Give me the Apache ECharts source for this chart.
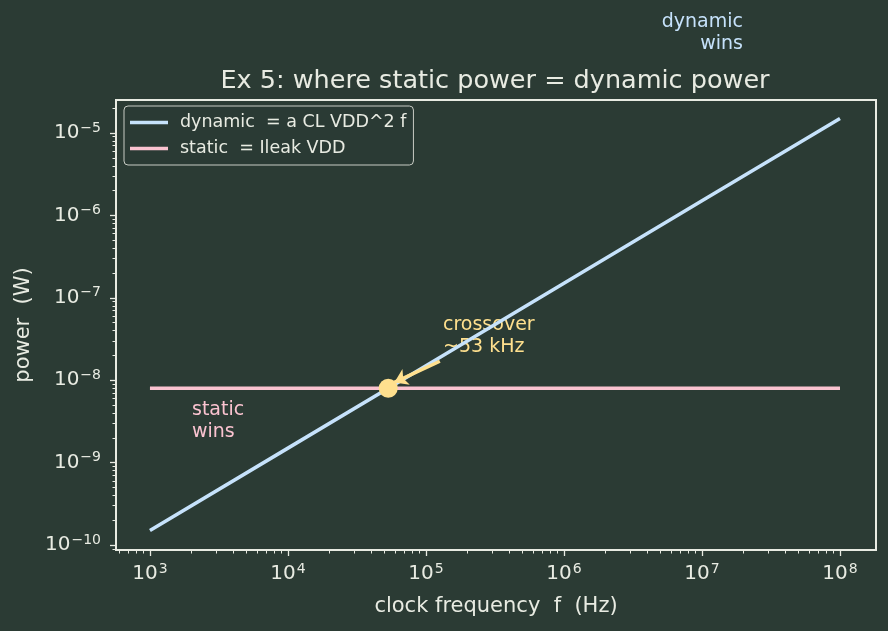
<!DOCTYPE html>
<html>
<head>
<meta charset="utf-8">
<script src="https://cdn.jsdelivr.net/npm/echarts@6/dist/echarts.min.js"></script>
<style>
  html, body { margin: 0; padding: 0; background: #2b3b34; }
  #main { width: 888px; height: 631px; }
</style>
</head>
<body>
<div id="main"></div>
<script>
// values
var freqHz = [1e3, 1e4, 1e5, 1e6, 1e7, 1e8];
var dynamicW = [1.5e-10, 1.5e-9, 1.5e-8, 1.5e-7, 1.5e-6, 1.5e-5];
var staticW = [8e-9, 8e-9, 8e-9, 8e-9, 8e-9, 8e-9];
var crossover = [5.33e4, 8e-9];
var xTickExps = [3, 4, 5, 6, 7, 8];
var yTickExps = [-10, -9, -8, -7, -6, -5];

var bg = '#2b3b34';
var fg = '#e8ebe2';
var cDyn = '#c6e2fb';
var cStat = '#fac3d0';
var cCross = '#ffe08e';
var font = 'DejaVu Sans';

var lg = Math.log10;
var xMin = 2.754, xMax = 8.261;
var yMin = -10.06, yMax = -4.6;

function minorTicks(lo, hi) {
    var out = [];
    for (var n = Math.floor(lo); n <= Math.ceil(hi); n++) {
        for (var k = 2; k <= 9; k++) {
            var v = n + lg(k);
            if (v >= lo && v <= hi) out.push(v);
        }
    }
    return out;
}

function powLabel(v) {
    var e = Math.round(v);
    var s = e < 0 ? '\u2212' + (-e) : '' + e;
    return '{b|10}{s|' + s + '}';
}

var richLab = {
    b: { fontSize: 20, lineHeight: 24, color: fg, fontFamily: font },
    s: { fontSize: 14, lineHeight: 16, color: fg, fontFamily: font, padding: [0, 0, 10, 1] }
};

var myChart = echarts.init(document.getElementById('main'));

var option = {
    backgroundColor: bg,
    animation: false,
    textStyle: { fontFamily: font },
    title: {
        text: 'Ex 5: where static power = dynamic power',
        left: 490,
        top: 63,
        textAlign: 'center',
        textStyle: { color: fg, fontSize: 25.5, fontWeight: 'normal', fontFamily: font }
    },
    grid: {
        left: 116, right: 12, top: 100, bottom: 81,
        show: true, borderColor: fg, borderWidth: 2, backgroundColor: 'transparent'
    },
    legend: {
        orient: 'vertical',
        left: 124, top: 106,
        padding: [6, 7, 6, 6],
        icon: 'rect',
        itemWidth: 38, itemHeight: 3.5, itemGap: 5,
        borderColor: '#c8ccc4', borderWidth: 1, borderRadius: 4,
        backgroundColor: 'rgba(43,59,52,0.8)',
        textStyle: { color: fg, fontSize: 17.5, lineHeight: 21, fontFamily: font, padding: [0, 0, 0, 7] },
        data: ['dynamic  = a CL VDD^2 f', 'static  = Ileak VDD']
    },
    xAxis: [{
        type: 'value', min: xMin, max: xMax,
        name: 'clock frequency  f  (Hz)', nameLocation: 'middle', nameGap: 46,
        nameTextStyle: { color: fg, fontSize: 21, fontFamily: font },
        axisLine: { show: true, onZero: false, lineStyle: { color: fg, width: 2 } },
        axisTick: { show: true, length: 6, lineStyle: { color: fg, width: 1.3 }, customValues: xTickExps },
        axisLabel: { customValues: xTickExps, formatter: powLabel, rich: richLab, margin: 12 },
        splitLine: { show: false }
    }, {
        type: 'value', min: xMin, max: xMax, position: 'bottom',
        axisLine: { show: false },
        axisTick: { show: true, length: 3.5, lineStyle: { color: fg, width: 1 }, customValues: minorTicks(xMin, xMax) },
        axisLabel: { show: false },
        splitLine: { show: false }
    }],
    yAxis: [{
        type: 'value', min: yMin, max: yMax,
        name: 'power  (W)', nameLocation: 'middle', nameGap: 81, nameRotate: 90,
        nameTextStyle: { color: fg, fontSize: 21, fontFamily: font },
        axisLine: { show: true, onZero: false, lineStyle: { color: fg, width: 2 } },
        axisTick: { show: true, length: 6, lineStyle: { color: fg, width: 1.3 }, customValues: yTickExps },
        axisLabel: { customValues: yTickExps, formatter: powLabel, rich: richLab, margin: 15 },
        splitLine: { show: false }
    }, {
        type: 'value', min: yMin, max: yMax, position: 'left',
        axisLine: { show: false },
        axisTick: { show: true, length: 3.5, lineStyle: { color: fg, width: 1 }, customValues: minorTicks(yMin, yMax) },
        axisLabel: { show: false },
        splitLine: { show: false }
    }],
    series: [{
        name: 'dynamic  = a CL VDD^2 f',
        type: 'line',
        symbol: 'none',
        color: cDyn,
        lineStyle: { color: cDyn, width: 3.5 },
        data: freqHz.map(function (f, i) { return [lg(f), lg(dynamicW[i])]; })
    }, {
        name: 'static  = Ileak VDD',
        type: 'line',
        symbol: 'none',
        color: cStat,
        lineStyle: { color: cStat, width: 3.5 },
        data: freqHz.map(function (f, i) { return [lg(f), lg(staticW[i])]; })
    }, {
        name: 'crossover',
        type: 'scatter',
        symbolSize: 19,
        z: 5,
        itemStyle: { color: cCross, opacity: 1 },
        data: [[lg(crossover[0]), lg(crossover[1])]],
        markLine: {
            silent: true,
            symbol: ['none', 'arrow'],
            symbolSize: 13,
            label: { show: false },
            lineStyle: { color: cCross, width: 3.5, type: 'solid' },
            data: [[
                { coord: [lg(1.26e5), lg(1.7e-8)] },
                { coord: [lg(5.9e4), lg(9.4e-9)] }
            ]]
        }
    }],
    graphic: [{
        type: 'text', x: 443, y: 314,
        style: { text: 'crossover\n~53 kHz', fill: cCross, fontSize: 19, fontFamily: font, lineHeight: 22 }
    }, {
        type: 'text', x: 192, y: 399,
        style: { text: 'static\nwins', fill: cStat, fontSize: 19, fontFamily: font, lineHeight: 22 }
    }, {
        type: 'text', x: 743, y: 11,
        style: { text: 'dynamic', fill: cDyn, fontSize: 19, fontFamily: font, lineHeight: 22, align: 'right' }
    }, {
        type: 'text', x: 743, y: 33,
        style: { text: 'wins', fill: cDyn, fontSize: 19, fontFamily: font, lineHeight: 22, align: 'right' }
    }]
};

myChart.setOption(option);
</script>
</body>
</html>
